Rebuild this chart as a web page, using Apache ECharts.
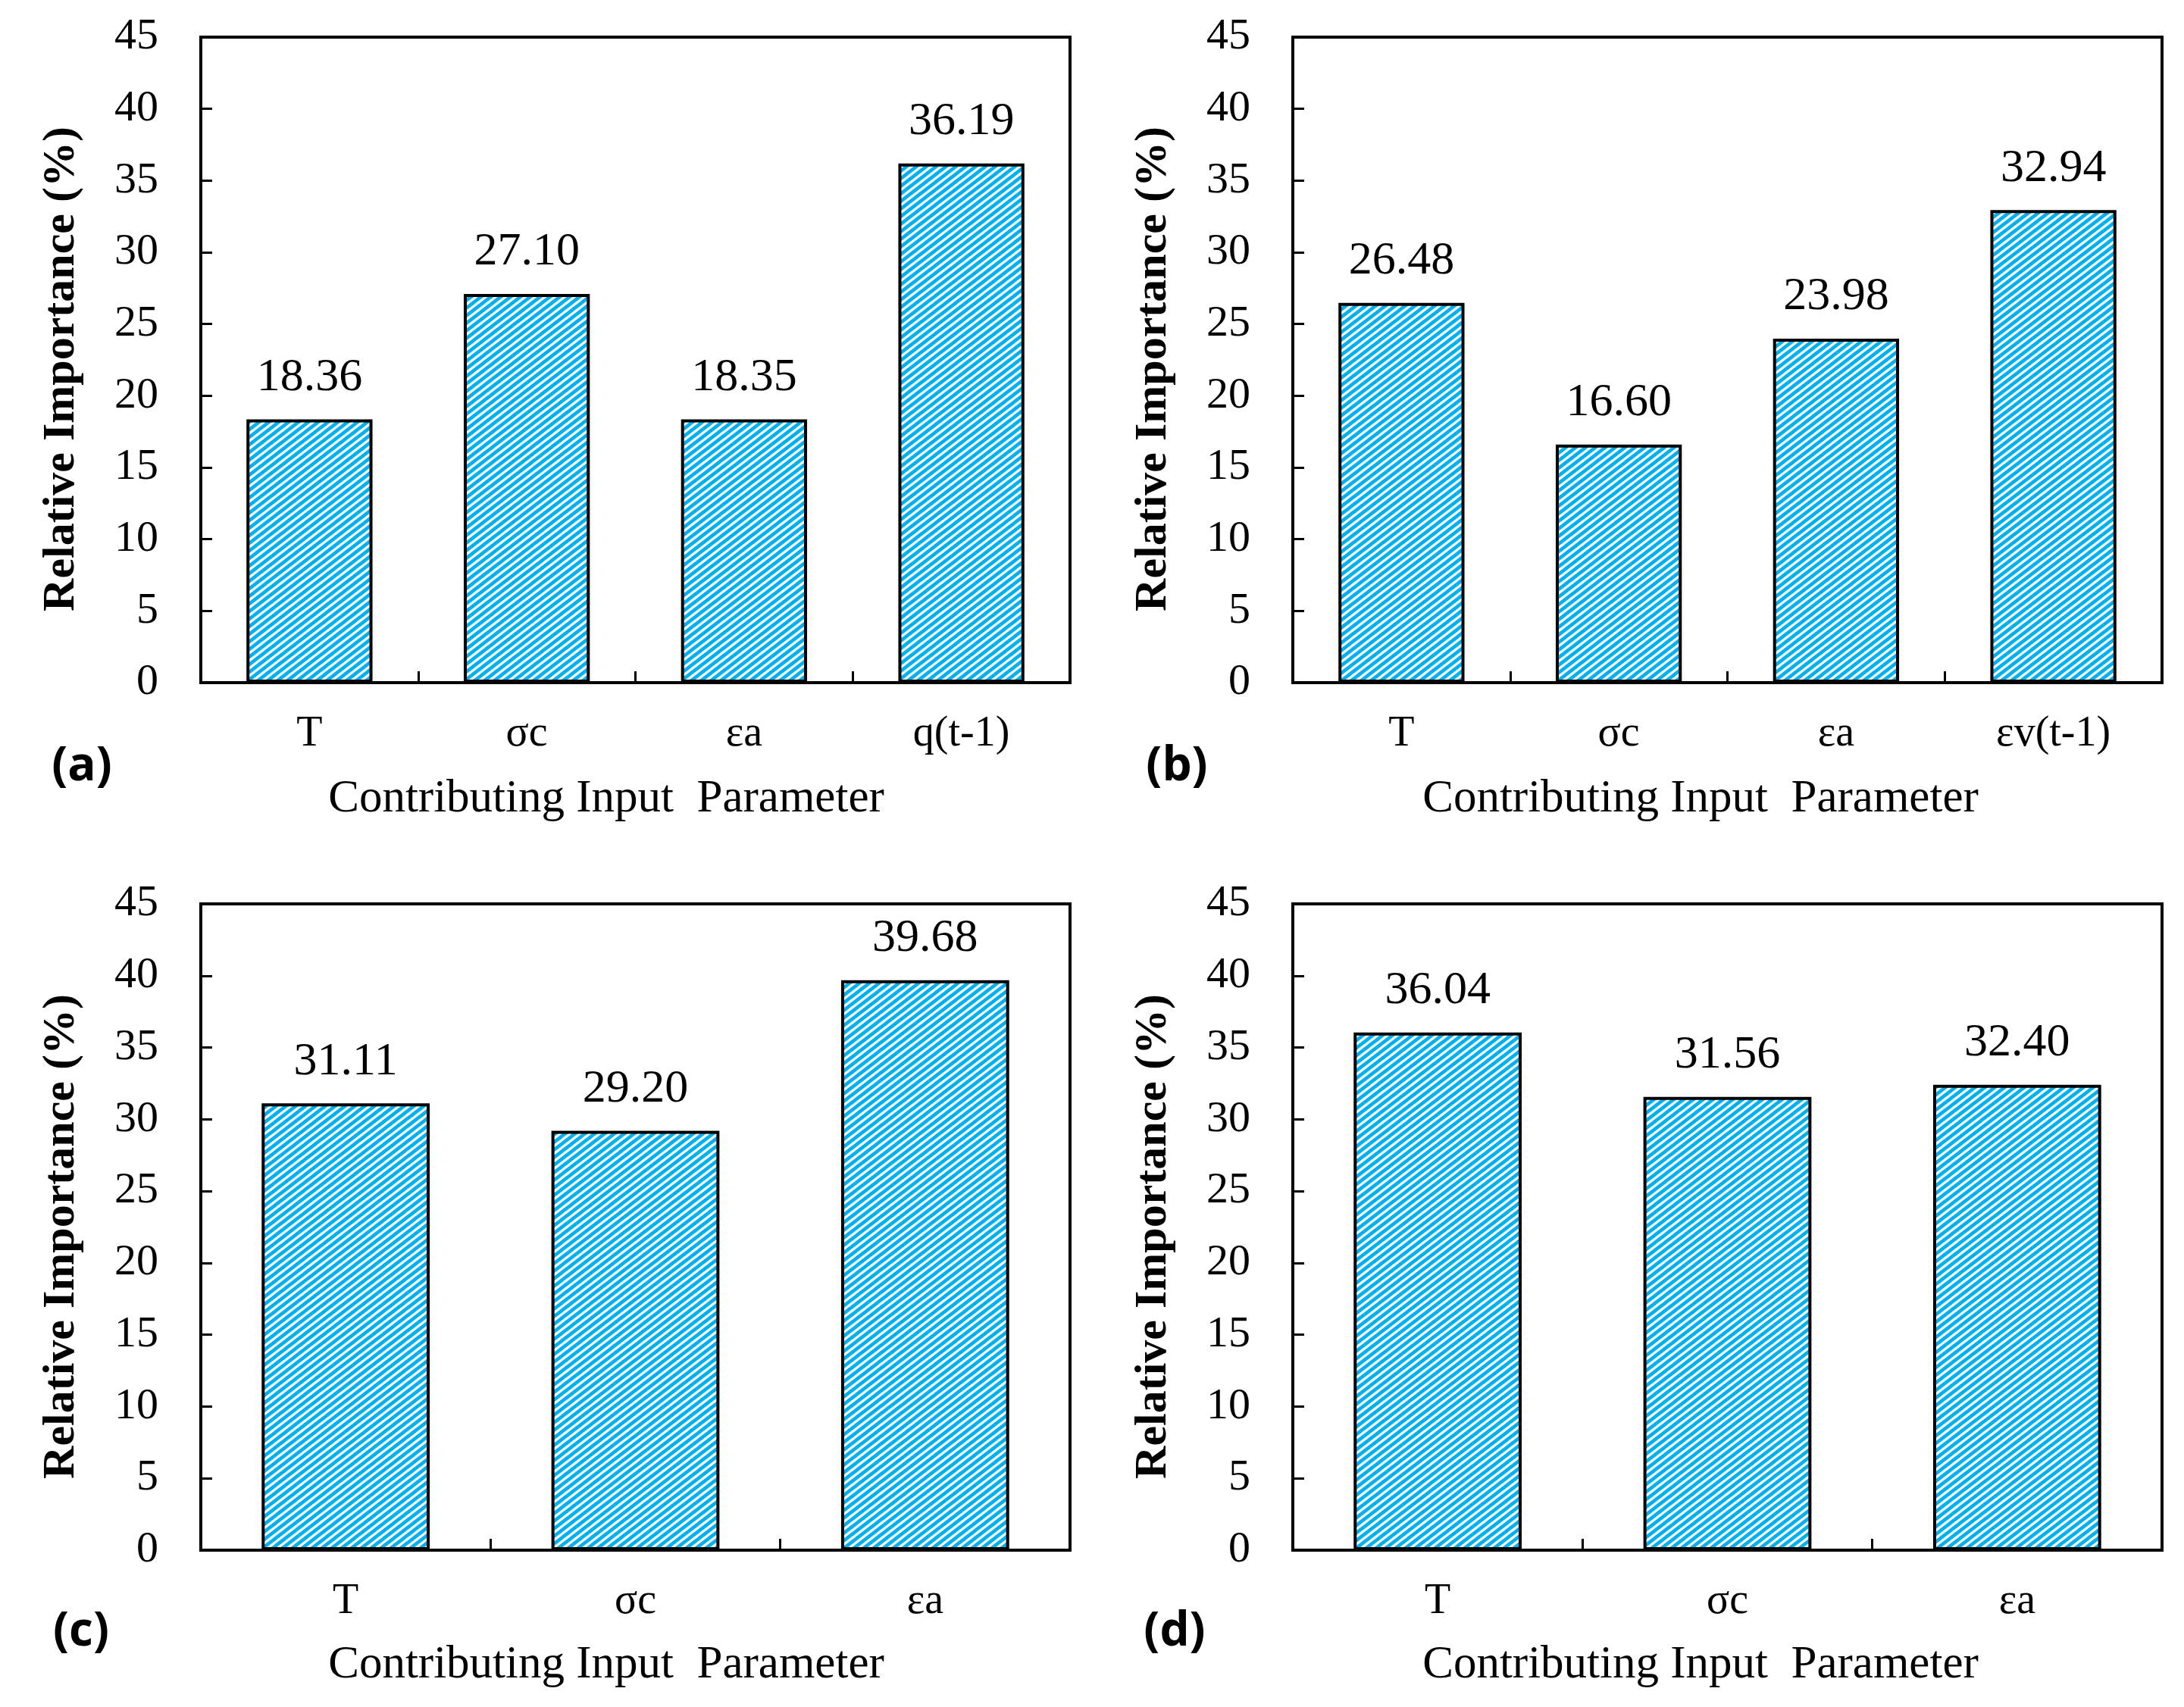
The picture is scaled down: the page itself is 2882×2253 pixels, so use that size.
<!DOCTYPE html>
<html>
<head>
<meta charset="utf-8">
<script src="https://cdn.jsdelivr.net/npm/echarts@6/dist/echarts.min.js"></script>
<style>
html,body{margin:0;padding:0;background:#fff;}
#c{width:2882px;height:2253px;}
</style>
</head>
<body>
<div id="c"></div>
<script>
// ---- data ----
const catsA = ['T', 'σc', 'εa', 'q(t-1)'];
const valsA = [18.36, 27.10, 18.35, 36.19];
const catsB = ['T', 'σc', 'εa', 'εv(t-1)'];
const valsB = [26.48, 16.60, 23.98, 32.94];
const catsC = ['T', 'σc', 'εa'];
const valsC = [31.11, 29.20, 39.68];
const catsD = ['T', 'σc', 'εa'];
const valsD = [36.04, 31.56, 32.40];
const panelLabels = ['(a)', '(b)', '(c)', '(d)'];
const yTitle = 'Relative Importance (%)';
const xTitle = 'Contributing Input  Parameter';
const yMin = 0, yMax = 45, yStep = 5;

// ---- pattern (wide upward diagonal) ----
function makePattern() {
  const W = 13, H = 10;
  const cv = document.createElement('canvas');
  cv.width = W; cv.height = H;
  const ctx = cv.getContext('2d');
  ctx.fillStyle = '#ffffff';
  ctx.fillRect(0, 0, W, H);
  ctx.strokeStyle = '#00B0F0';
  ctx.lineWidth = 4.6;
  for (let k = 0; k <= 2; k++) {
    ctx.beginPath();
    ctx.moveTo(-W, (k + 1) * H);
    ctx.lineTo(2 * W, (k - 2) * H);
    ctx.stroke();
  }
  return cv;
}
const pattern = makePattern();

const serif = '"Liberation Serif", "Times New Roman", serif';
const chart = echarts.init(document.getElementById('c'), null, {renderer: 'canvas'});

const grids = [
  {left: 265, top: 49, width: 1147, height: 852},
  {left: 1706, top: 49, width: 1147, height: 852},
  {left: 265, top: 1193, width: 1147, height: 853},
  {left: 1706, top: 1193, width: 1147, height: 853}
];
const cats = [catsA, catsB, catsC, catsD];
const vals = [valsA, valsB, valsC, valsD];

const option = {
  backgroundColor: '#ffffff',
  animation: false,
  grid: grids.map(g => Object.assign({show: true, borderColor: '#000', borderWidth: 4, backgroundColor: 'transparent'}, g)),
  xAxis: cats.map((c, i) => ({
    type: 'category', gridIndex: i, data: c,
    axisLine: {show: true, lineStyle: {color: '#000', width: 4}},
    axisTick: {show: true, inside: true, length: 15, lineStyle: {color: '#000', width: 3}},
    axisLabel: {fontFamily: serif, fontSize: 56, color: '#000', margin: 40},
    splitLine: {show: false}
  })),
  yAxis: cats.map((c, i) => ({
    type: 'value', gridIndex: i, min: yMin, max: yMax, interval: yStep,
    axisLine: {show: true, lineStyle: {color: '#000', width: 4}},
    axisTick: {show: true, inside: true, length: 15, lineStyle: {color: '#000', width: 3}},
    axisLabel: {fontFamily: serif, fontSize: 58, color: '#000', margin: 56},
    splitLine: {show: false}
  })),
  series: vals.map((v, i) => ({
    type: 'bar', xAxisIndex: i, yAxisIndex: i, data: v,
    barWidth: '58%',
    itemStyle: {color: {image: pattern, repeat: 'repeat'}, borderColor: '#000', borderWidth: 4},
    label: {
      show: true, position: 'top', distance: 24,
      fontFamily: serif, fontSize: 62, color: '#000',
      formatter: p => p.value.toFixed(2)
    }
  })),
  graphic: []
};

const yTitlePos = [[81, 487], [1522, 487], [81, 1632], [1522, 1632]];
const xTitlePos = [[800, 1055], [2244, 1055], [800, 2198], [2244, 2198]];
const letterPos = [[108, 1012], [1553, 1012], [107, 2154], [1550, 2154]];
for (let i = 0; i < 4; i++) {
  option.graphic.push({
    type: 'text', x: yTitlePos[i][0], y: yTitlePos[i][1], rotation: Math.PI / 2,
    style: {text: yTitle, fontFamily: serif, fontWeight: 'bold', fontSize: 60, fill: '#000', textAlign: 'center', textVerticalAlign: 'middle'}
  });
  option.graphic.push({
    type: 'text', x: xTitlePos[i][0], y: xTitlePos[i][1],
    style: {text: xTitle, fontFamily: serif, fontSize: 61, fill: '#000', textAlign: 'center', textVerticalAlign: 'middle'}
  });
  option.graphic.push({
    type: 'text', x: letterPos[i][0], y: letterPos[i][1],
    style: {text: panelLabels[i], fontFamily: '"Open Sans", Lato, sans-serif', fontWeight: 'bold', fontSize: 62, fill: '#000', textAlign: 'center', textVerticalAlign: 'middle'}
  });
}
chart.setOption(option);
</script>
</body>
</html>
